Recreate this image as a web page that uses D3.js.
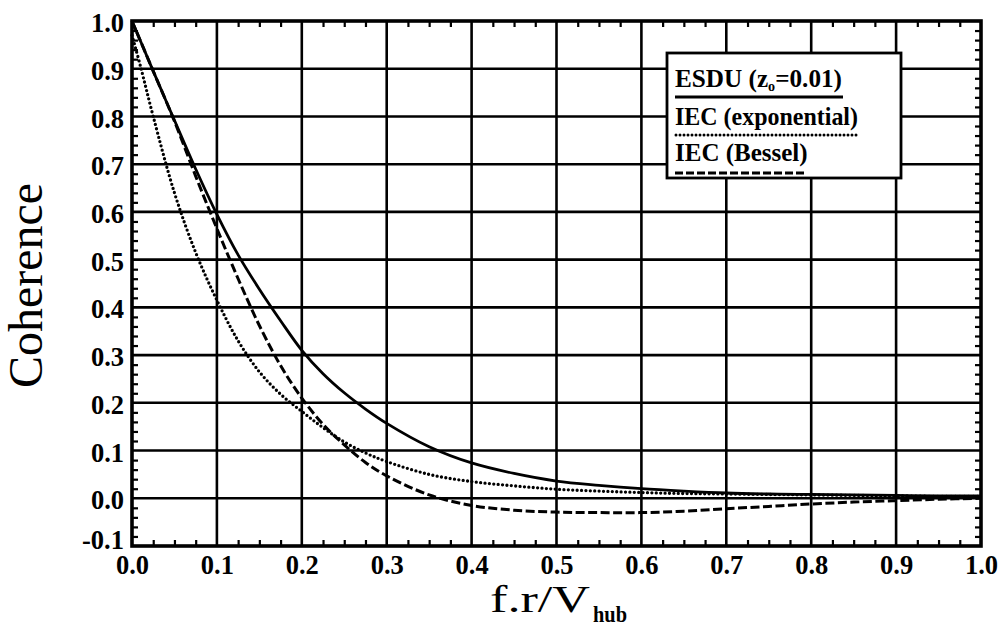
<!DOCTYPE html>
<html>
<head>
<meta charset="utf-8">
<script src="https://cdn.jsdelivr.net/npm/d3@7"></script>
<style>
  html, body { margin: 0; padding: 0; background: #fff; }
  svg { display: block; }
  text { font-family: "Liberation Serif", "Times New Roman", serif; fill: #000; }
</style>
</head>
<body>
<svg id="chart" width="999" height="629"></svg>
<script>
// Normalised frequency f.r/V_hub
const freq = [0, 0.01, 0.025, 0.05, 0.075, 0.1, 0.125, 0.15, 0.175, 0.2, 0.225, 0.25, 0.275, 0.3, 0.35,
              0.4, 0.45, 0.5, 0.55, 0.6, 0.65, 0.7, 0.75, 0.8, 0.85, 0.9, 0.95, 1.0];

// ESDU coherence (z0 = 0.01)
const esdu = [1.0, 0.958, 0.895, 0.792, 0.69, 0.595, 0.51, 0.438, 0.372, 0.31, 0.261, 0.221, 0.187, 0.157, 0.108,
              0.074, 0.052, 0.036, 0.027, 0.020, 0.015, 0.011, 0.009, 0.008, 0.007, 0.006, 0.005, 0.005];

// IEC exponential coherence model
const iecExp = [0.97, 0.905, 0.80, 0.64, 0.515, 0.415, 0.33, 0.265, 0.218, 0.182, 0.148, 0.118, 0.095, 0.077, 0.050,
                0.035, 0.026, 0.019, 0.015, 0.012, 0.010, 0.009, 0.008, 0.007, 0.006, 0.005, 0.004, 0.004];

// IEC Bessel-function coherence model
const iecBessel = [1.0, 0.958, 0.895, 0.79, 0.675, 0.565, 0.46, 0.362, 0.278, 0.21, 0.155, 0.112, 0.075, 0.047, 0.007,
                   -0.015, -0.025, -0.029, -0.030, -0.030, -0.027, -0.022, -0.017, -0.012, -0.008, -0.005, -0.002, 0.0];

const xTicks = [0, 0.1, 0.2, 0.3, 0.4, 0.5, 0.6, 0.7, 0.8, 0.9, 1.0];
const yTicks = [-0.1, 0, 0.1, 0.2, 0.3, 0.4, 0.5, 0.6, 0.7, 0.8, 0.9, 1.0];

const seriesNames = ["ESDU", "IEC (exponential)", "IEC (Bessel)"];

const svg = d3.select("#chart");
const x = d3.scaleLinear().domain([0, 1]).range([132, 981]);
const y = d3.scaleLinear().domain([-0.1, 1.0]).range([546, 21]);

const x0 = x.range()[0], x1 = x.range()[1];
const yTop = y.range()[1], yBot = y.range()[0];

// Grid
const grid = svg.append("g").attr("stroke", "#000").attr("stroke-width", 2.6);
grid.selectAll("line.gx").data(xTicks.slice(1, -1)).join("line")
  .attr("x1", d => x(d)).attr("x2", d => x(d)).attr("y1", yTop).attr("y2", yBot);
grid.selectAll("line.gy").data(yTicks.slice(1, -1)).join("line")
  .attr("y1", d => y(d)).attr("y2", d => y(d)).attr("x1", x0).attr("x2", x1);

// Minor ticks (inward) on all four sides
const tickLen = 6;
const xMinor = d3.range(0, 41).map(i => i * 0.025).filter((d, i) => i % 4 !== 0);
const yMinor = d3.range(0, 56).map(i => -0.1 + i * 0.02).filter((d, i) => i % 5 !== 0);

const axBottom = svg.append("g").attr("transform", `translate(0,${yBot})`)
  .call(d3.axisTop(x).tickValues(xMinor).tickSize(tickLen).tickFormat(""));
const axTop = svg.append("g").attr("transform", `translate(0,${yTop})`)
  .call(d3.axisBottom(x).tickValues(xMinor).tickSize(tickLen).tickFormat(""));
const axLeft = svg.append("g").attr("transform", `translate(${x0},0)`)
  .call(d3.axisRight(y).tickValues(yMinor).tickSize(tickLen).tickFormat(""));
const axRight = svg.append("g").attr("transform", `translate(${x1},0)`)
  .call(d3.axisLeft(y).tickValues(yMinor).tickSize(tickLen).tickFormat(""));
[axBottom, axTop, axLeft, axRight].forEach(g => {
  g.select(".domain").remove();
  g.selectAll(".tick line").attr("stroke", "#000").attr("stroke-width", 2.2);
});

// Tick labels
const xLab = svg.append("g").attr("transform", `translate(0,${yBot})`)
  .call(d3.axisBottom(x).tickValues(xTicks).tickSize(0).tickPadding(28).tickFormat(d3.format(".1f")));
xLab.select(".domain").remove();
xLab.selectAll("text").attr("font-family", "Liberation Serif, serif").attr("font-size", 26.5)
  .attr("font-weight", "bold").attr("dy", 0).attr("fill", "#000");

const yLab = svg.append("g").attr("transform", `translate(${x0},0)`)
  .call(d3.axisLeft(y).tickValues(yTicks).tickSize(0).tickPadding(8).tickFormat(d3.format(".1f")));
yLab.select(".domain").remove();
yLab.selectAll("text").attr("font-family", "Liberation Serif, serif").attr("font-size", 26.5)
  .attr("font-weight", "bold").attr("dy", d => d < 0 ? "0.1em" : "0.4em").attr("fill", "#000")
  .text(d => d3.format(".1f")(d).replace("−", "-"));

// Curves
const line = d3.line().x((d, i) => x(freq[i])).y(d => y(d)).curve(d3.curveCatmullRom.alpha(0.5));
const curves = svg.append("g").attr("fill", "none").attr("stroke", "#000");
curves.append("path").datum(esdu).attr("d", line).attr("stroke-width", 2.8);
curves.append("path").datum(iecExp).attr("d", line).attr("stroke-width", 3.3)
  .attr("stroke-linecap", "round").attr("stroke-dasharray", "0 4.4");
curves.append("path").datum(iecBessel).attr("d", line).attr("stroke-width", 3)
  .attr("stroke-dasharray", "9 3.5");

// Plot frame
svg.append("rect").attr("x", x0).attr("y", yTop).attr("width", x1 - x0).attr("height", yBot - yTop)
  .attr("fill", "none").attr("stroke", "#000").attr("stroke-width", 3.6);

// Legend
const leg = svg.append("g");
leg.append("rect").attr("x", 667).attr("y", 53).attr("width", 234).attr("height", 125)
  .attr("fill", "#fff").attr("stroke", "#000").attr("stroke-width", 2.8);

const t1 = leg.append("text").attr("x", 675).attr("y", 87).attr("font-size", 25).attr("font-weight", "bold")
  .attr("textLength", 167).attr("lengthAdjust", "spacingAndGlyphs");
t1.append("tspan").text("ESDU (z");
t1.append("tspan").attr("font-size", 14).attr("dy", 4).text("o");
t1.append("tspan").attr("dy", -4).text("=0.01)");
leg.append("line").attr("x1", 675).attr("x2", 843).attr("y1", 97).attr("y2", 97)
  .attr("stroke", "#000").attr("stroke-width", 2.8);

leg.append("text").attr("x", 675).attr("y", 125).attr("font-size", 25).attr("font-weight", "bold")
  .attr("textLength", 183).attr("lengthAdjust", "spacingAndGlyphs").text(seriesNames[1]);
leg.append("line").attr("x1", 676).attr("x2", 858).attr("y1", 135).attr("y2", 135)
  .attr("stroke", "#000").attr("stroke-width", 3).attr("stroke-linecap", "round")
  .attr("stroke-dasharray", "0 4");

leg.append("text").attr("x", 675).attr("y", 161).attr("font-size", 25).attr("font-weight", "bold")
  .text(seriesNames[2]);
leg.append("line").attr("x1", 675).attr("x2", 804).attr("y1", 173).attr("y2", 173)
  .attr("stroke", "#000").attr("stroke-width", 3).attr("stroke-dasharray", "8 3");

// Axis titles
svg.append("text").attr("transform", "translate(42,285.5) rotate(-90)")
  .attr("text-anchor", "middle").attr("font-size", 48)
  .attr("textLength", 205).attr("lengthAdjust", "spacingAndGlyphs").text("Coherence");

svg.append("text").attr("x", 490).attr("y", 612).attr("font-size", 37)
  .attr("textLength", 100).attr("lengthAdjust", "spacingAndGlyphs").text("f.r/V");
svg.append("text").attr("x", 593).attr("y", 622).attr("font-size", 23).attr("font-weight", "bold")
  .attr("textLength", 34).attr("lengthAdjust", "spacingAndGlyphs").text("hub");
</script>
</body>
</html>
